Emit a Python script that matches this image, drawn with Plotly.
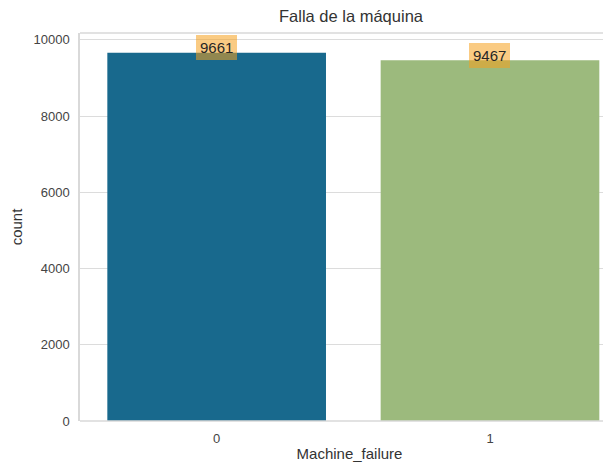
import plotly.graph_objects as go

categories = ["0", "1"]
counts = [9661, 9467]
bar_colors = ["#18698d", "#9cba7d"]
y_ticks = [0, 2000, 4000, 6000, 8000, 10000]

fig = go.Figure()
fig.add_trace(go.Bar(
    x=[0, 1], y=counts, width=0.8,
    marker=dict(color=bar_colors, line=dict(width=0)),
    showlegend=False,
))

for xi, v in zip([0, 1], counts):
    fig.add_annotation(
        x=xi, y=v, text=str(v), showarrow=False, yshift=5,
        font=dict(family="Liberation Sans, Arial", size=15, color="#262626"),
        bgcolor="rgba(245,160,30,0.55)", borderpad=4, borderwidth=0,
    )

# top and bottom spines
fig.add_shape(type="line", xref="paper", yref="paper", x0=0, x1=1, y0=1, y1=1,
              line=dict(color="#d9d9d9", width=1.5))
fig.add_shape(type="line", xref="paper", yref="paper", x0=0, x1=1, y0=0, y1=0,
              line=dict(color="#d9d9d9", width=1.5))

fig.update_layout(
    width=611, height=465,
    margin=dict(l=72, r=0, t=25, b=52, autoexpand=False),
    paper_bgcolor="white", plot_bgcolor="white",
    font=dict(family="Liberation Sans, Arial", size=13, color="#444444"),
    title=dict(text="Falla de la máquina", x=343/611, xanchor="center", y=1 - 8/465, yanchor="middle",
               font=dict(size=16.5, color="#333333"), automargin=False),
    bargap=0.2,
    xaxis=dict(
        range=[-0.5, 1.472], tickvals=[0, 1], ticktext=categories, automargin=False,
        showgrid=False, zeroline=False, ticks="outside", ticklen=5, tickcolor="rgba(0,0,0,0)",
        showline=False,
        title=dict(text="Machine_failure", standoff=3, font=dict(size=15, color="#333333")),
        tickfont=dict(size=13, color="#444444"),
    ),
    yaxis=dict(
        range=[0, 10180], tickvals=y_ticks, ticktext=[str(t) for t in y_ticks], automargin=False,
        showgrid=True, gridcolor="#dcdcdc", gridwidth=1, zeroline=False,
        showline=True, linecolor="#d9d9d9", linewidth=1.5,
        ticks="outside", ticklen=6, tickcolor="rgba(0,0,0,0)",
        title=dict(text="count", standoff=10, font=dict(size=15, color="#333333")),
        tickfont=dict(size=13, color="#444444"),
    ),
)

fig.write_html("out.html")
